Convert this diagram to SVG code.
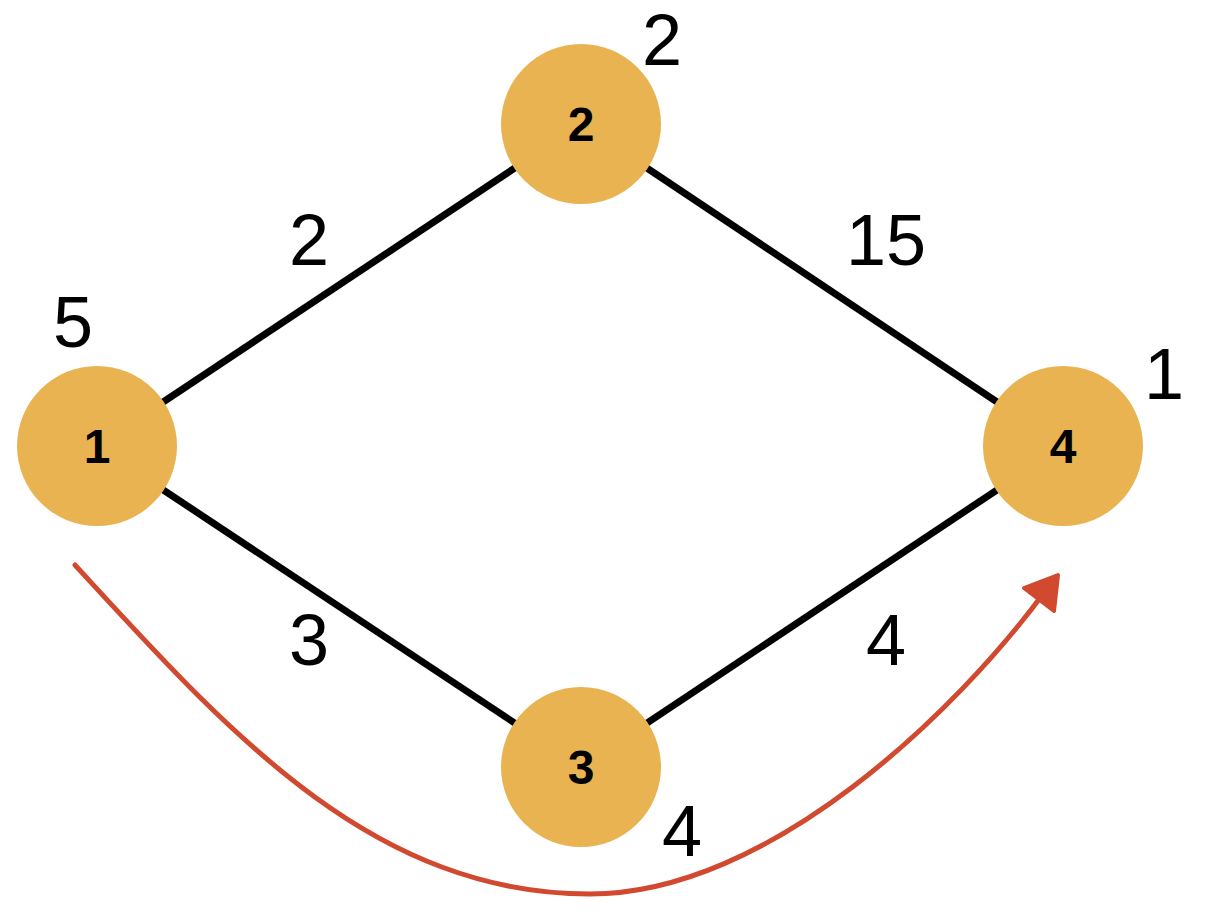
<svg xmlns="http://www.w3.org/2000/svg" width="1210" height="924" viewBox="0 0 1210 924">
  <style>
    .node circle { fill: #E8B350; }
    .node text { font-family: "Liberation Sans", Arial, sans-serif; font-weight: bold; font-size: 48px; fill: #000; text-anchor: middle; }
    .edge { stroke: #000; stroke-width: 7; fill: none; }
    .lbl { font-family: "Liberation Sans", Arial, sans-serif; font-size: 72px; fill: #000; text-anchor: middle; }
    .path-arrow { stroke: #D1492F; stroke-width: 5; fill: none; stroke-linecap: round; }
    .head { fill: #D1492F; stroke: #D1492F; stroke-width: 4; stroke-linejoin: round; }
  </style>
  <rect width="1210" height="924" fill="#fff"/>
  <g id="connectors">
    <line class="edge" x1="97" y1="446" x2="581" y2="124"/>
    <line class="edge" x1="581" y1="124" x2="1063" y2="446"/>
    <line class="edge" x1="97" y1="446" x2="581" y2="767"/>
    <line class="edge" x1="581" y1="767" x2="1063" y2="446"/>
    <path class="path-arrow" d="M75,565 C225,728 370,894 590,894 C770,894 958,710 1046,590"/>
    <polygon class="head" points="1058,575 1024,588 1054,611"/>
  </g>
  <g id="edge-labels">
    <text class="lbl" x="309" y="265">2</text>
    <text class="lbl" x="886" y="265">15</text>
    <text class="lbl" x="309" y="665">3</text>
    <text class="lbl" x="886" y="665">4</text>
  </g>
  <g id="node-1" class="node">
    <circle cx="97" cy="446" r="80"/>
    <text x="97" y="463">1</text>
  </g>
  <g id="node-2" class="node">
    <circle cx="581" cy="124" r="80"/>
    <text x="581" y="141">2</text>
  </g>
  <g id="node-3" class="node">
    <circle cx="581" cy="767" r="80"/>
    <text x="581" y="784">3</text>
  </g>
  <g id="node-4" class="node">
    <circle cx="1063" cy="446" r="80"/>
    <text x="1063" y="463">4</text>
  </g>
  <g id="node-values">
    <text class="lbl" x="73" y="347">5</text>
    <text class="lbl" x="662" y="65">2</text>
    <text class="lbl" x="1164" y="399">1</text>
    <text class="lbl" x="682" y="856">4</text>
  </g>
</svg>
